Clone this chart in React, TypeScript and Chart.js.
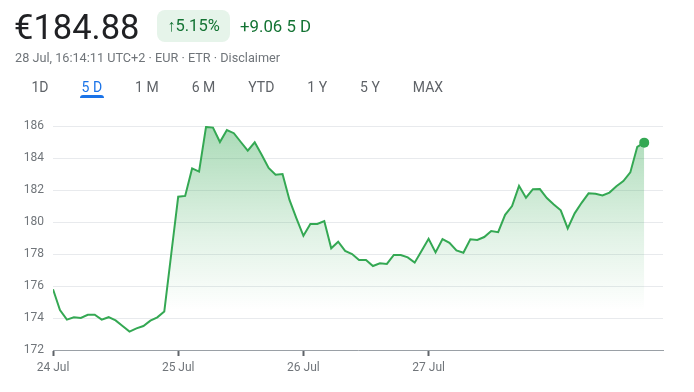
import React, { useEffect, useRef } from "react";
import { Chart, registerables } from "chart.js";

Chart.register(...registerables);

// ---- data ----
const prices: number[] = [
  175.8, 174.5, 173.9, 174.04, 174.0, 174.2, 174.2, 173.9, 174.05, 173.85,
  173.5, 173.15, 173.35, 173.5, 173.83, 174.04, 174.4, 178.0,
  181.58, 181.63, 183.35, 183.15, 185.94, 185.9, 185.0, 185.75, 185.55, 185.0,
  184.46, 184.98, 184.2, 183.38, 182.96, 183.0, 181.38, 180.23,
  179.14, 179.88, 179.88, 180.06, 178.36, 178.77, 178.19, 178.0, 177.63, 177.63,
  177.25, 177.42, 177.38, 177.94, 177.94, 177.79, 177.46, 178.21,
  178.95, 178.1, 178.93, 178.7, 178.22, 178.08, 178.92, 178.88, 179.06, 179.44,
  179.36, 180.45, 181.0, 182.26, 181.52, 182.05, 182.06, 181.5,
  181.1, 180.73, 179.6, 180.54, 181.2, 181.79, 181.77, 181.66, 181.84, 182.23,
  182.56, 183.1, 184.7, 184.96,
];
const dayTickIndex: number[] = [0, 18, 36, 54];
const dayLabels: string[] = ["24 Jul", "25 Jul", "26 Jul", "27 Jul"];
const yMin = 172;
const yMax = 186;
const yStep = 2;
const xMax = 87.7;

const priceText = "€184.88";
const changePct = "↑5.15%";
const changeAbs = "+9.06 5 D";
const subtitle = "28 Jul, 16:14:11 UTC+2 · EUR · ETR · Disclaimer";
const tabs: string[] = ["1D", "5 D", "1 M", "6 M", "YTD", "1 Y", "5 Y", "MAX"];
const activeTab = "5 D";

const FONT = "Roboto, 'Noto Sans', Arial, sans-serif";

export default function App() {
  const canvasRef = useRef<HTMLCanvasElement | null>(null);

  useEffect(() => {
    const canvas = canvasRef.current;
    if (!canvas) return;
    const points = prices.map((v, i) => ({ x: i, y: v }));
    const last = points.length - 1;
    const chart = new Chart(canvas, {
      type: "line",
      data: {
        datasets: [
          {
            data: points,
            borderColor: "#34a853",
            borderWidth: 2,
            tension: 0,
            fill: "start",
            backgroundColor: (ctx: any) => {
              const area = ctx.chart.chartArea;
              if (!area) return "rgba(52,168,83,0.2)";
              const g = ctx.chart.ctx.createLinearGradient(0, area.top, 0, area.bottom);
              g.addColorStop(0, "rgba(52,168,83,0.42)");
              g.addColorStop(0.5, "rgba(52,168,83,0.14)");
              g.addColorStop(0.82, "rgba(52,168,83,0.0)");
              g.addColorStop(1, "rgba(52,168,83,0.0)");
              return g;
            },
            pointRadius: (ctx: any) => (ctx.dataIndex === last ? 5 : 0),
            pointBackgroundColor: "#34a853",
            pointBorderWidth: 0,
            pointHoverRadius: 0,
          },
        ],
      },
      options: {
        animation: false,
        responsive: false,
        maintainAspectRatio: false,
        layout: { padding: { left: 0, right: 31, top: 126, bottom: 12 } },
        plugins: { legend: { display: false }, tooltip: { enabled: false } },
        scales: {
          x: {
            type: "linear",
            min: 0,
            max: xMax,
            afterBuildTicks: (scale: any) => {
              scale.ticks = dayTickIndex.map((v) => ({ value: v }));
            },
            afterFit: (scale: any) => {
              scale.height = 30;
            },
            ticks: {
              autoSkip: false,
              maxRotation: 0,
              padding: 5,
              color: "#70757a",
              font: { family: FONT, size: 12 },
              callback: (v: any) => {
                const k = dayTickIndex.indexOf(Number(v));
                return k >= 0 ? dayLabels[k] : "";
              },
            },
            grid: {
              drawOnChartArea: false,
              drawTicks: true,
              tickLength: 6,
              tickColor: "#5f6368",
              tickWidth: 2,
            },
            border: { display: true, color: "#9aa0a6", width: 1 },
          },
          y: {
            min: yMin,
            max: yMax,
            afterFit: (scale: any) => {
              scale.width = 53;
            },
            ticks: {
              stepSize: yStep,
              padding: 9,
              color: "#70757a",
              font: { family: FONT, size: 12 },
            },
            grid: { color: "#e8eaed", drawTicks: false, lineWidth: 1 },
            border: { display: false },
          },
        },
      },
    } as any);
    return () => chart.destroy();
  }, []);

  return (
    <div
      style={{
        position: "fixed",
        left: 0,
        top: 0,
        width: 694,
        height: 392,
        background: "#fff",
        fontFamily: FONT,
        overflow: "hidden",
      }}
    >
      <canvas
        ref={canvasRef}
        width={694}
        height={392}
        style={{ position: "absolute", left: 0, top: 0, width: 694, height: 392 }}
      />
      <div
        style={{
          position: "absolute",
          left: 14,
          top: 10,
          fontSize: 34.5,
          lineHeight: "34px",
          color: "#202124",
          whiteSpace: "nowrap",
        }}
      >
        {priceText}
      </div>
      <div
        style={{
          position: "absolute",
          left: 157,
          top: 10,
          width: 73,
          height: 32,
          borderRadius: 8,
          background: "#e6f4ea",
          color: "#137333",
          fontSize: 16.5,
          lineHeight: "32px",
          textAlign: "center",
          whiteSpace: "nowrap",
        }}
      >
        {changePct}
      </div>
      <div
        style={{
          position: "absolute",
          left: 240,
          top: 10,
          color: "#137333",
          fontSize: 16.8,
          lineHeight: "32px",
          whiteSpace: "nowrap",
        }}
      >
        {changeAbs}
      </div>
      <div
        style={{
          position: "absolute",
          left: 15,
          top: 50,
          color: "#70757a",
          fontSize: 12.7,
          lineHeight: "16px",
          whiteSpace: "nowrap",
        }}
      >
        {subtitle}
      </div>
      <div
        style={{
          position: "absolute",
          left: 15,
          top: 78,
          display: "flex",
          fontSize: 14,
          lineHeight: "18px",
          whiteSpace: "nowrap",
        }}
      >
        {tabs.map((t) => (
          <div
            key={t}
            style={{
              position: "relative",
              padding: "0 16.5px",
              color: t === activeTab ? "#1a73e8" : "#5f6368",
            }}
          >
            {t}
            {t === activeTab && (
              <div
                style={{
                  position: "absolute",
                  left: 14.5,
                  right: 14.5,
                  top: 17,
                  height: 3,
                  borderRadius: "3px 3px 0 0",
                  background: "#1a73e8",
                }}
              />
            )}
          </div>
        ))}
      </div>
    </div>
  );
}
